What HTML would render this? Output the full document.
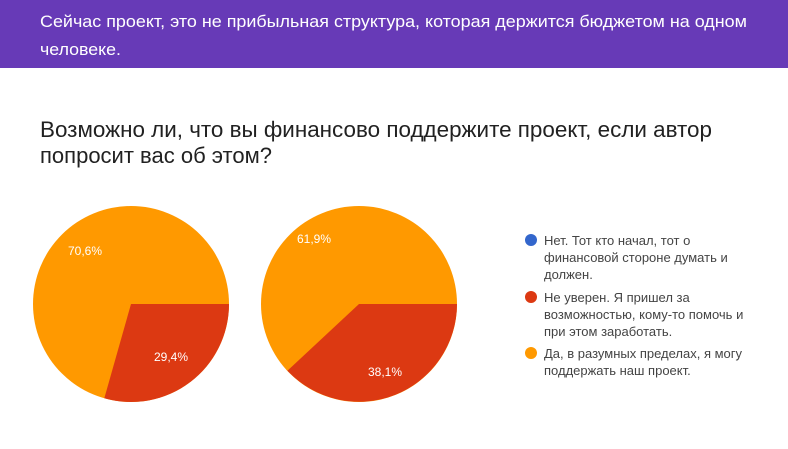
<!DOCTYPE html>
<html><head><meta charset="utf-8"><style>
html,body{margin:0;padding:0;background:#fff;}
svg{display:block}
</style></head><body>
<svg width="788" height="449" xmlns="http://www.w3.org/2000/svg" font-family="Liberation Sans, sans-serif">
<rect x="0" y="0" width="788" height="68" fill="#673ab7"/>
<text x="40" y="27" font-size="17" fill="#fff" textLength="707" lengthAdjust="spacingAndGlyphs">Сейчас проект, это не прибыльная структура, которая держится бюджетом на одном</text>
<text x="40" y="55" font-size="17" fill="#fff" textLength="81" lengthAdjust="spacingAndGlyphs">человеке.</text>
<text x="40" y="137" font-size="22" fill="#212121" textLength="672" lengthAdjust="spacingAndGlyphs">Возможно ли, что вы финансово поддержите проект, если автор</text>
<text x="40" y="163" font-size="22" fill="#212121" textLength="232" lengthAdjust="spacingAndGlyphs">попросит вас об этом?</text>
<!-- pie 1 -->
<circle cx="131" cy="304" r="98" fill="#ff9900"/>
<path d="M131 304 L229 304 A98 98 0 0 1 104.3 398.3 Z" fill="#dc3912"/>
<text x="68" y="255" font-size="12" fill="#fff">70,6%</text>
<text x="154" y="361" font-size="12" fill="#fff">29,4%</text>
<!-- pie 2 -->
<circle cx="359" cy="304" r="98" fill="#ff9900"/>
<path d="M359 304 L457 304 A98 98 0 0 1 287.4 370.7 Z" fill="#dc3912"/>
<text x="297" y="243" font-size="12" fill="#fff">61,9%</text>
<text x="368" y="376" font-size="12" fill="#fff">38,1%</text>
<!-- legend -->
<g font-size="13" fill="#444">
<circle cx="531" cy="240" r="6" fill="#3366cc"/>
<text x="544" y="245">Нет. Тот кто начал, тот о</text>
<text x="544" y="262">финансовой стороне думать и</text>
<text x="544" y="279">должен.</text>
<circle cx="531" cy="297" r="6" fill="#dc3912"/>
<text x="544" y="302">Не уверен. Я пришел за</text>
<text x="544" y="319">возможностью, кому-то помочь и</text>
<text x="544" y="336">при этом заработать.</text>
<circle cx="531" cy="353" r="6" fill="#ff9900"/>
<text x="544" y="358">Да, в разумных пределах, я могу</text>
<text x="544" y="375">поддержать наш проект.</text>
</g>
</svg>
</body></html>
